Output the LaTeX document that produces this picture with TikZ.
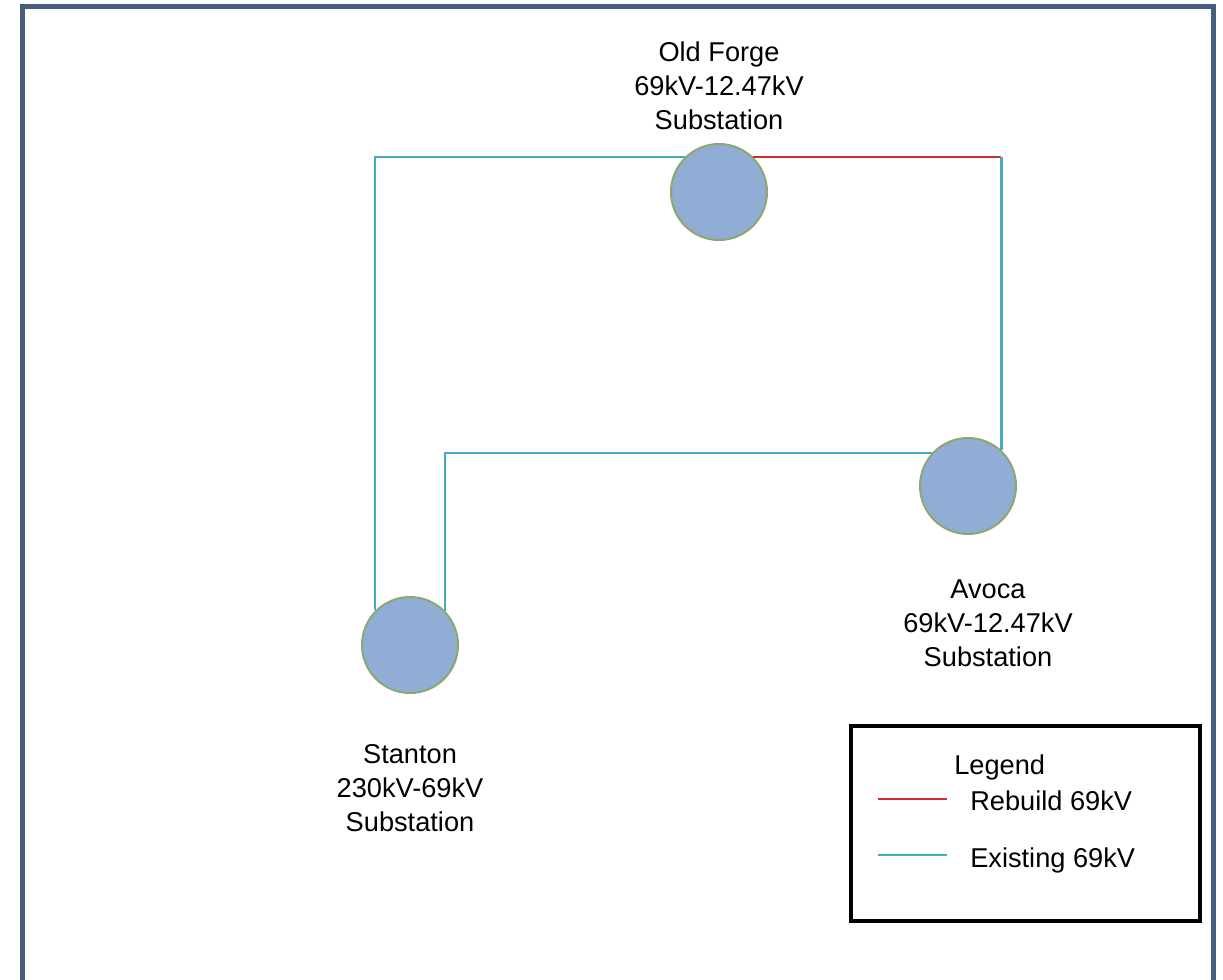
\documentclass[tikz,border=0pt]{standalone}
\usepackage{fontspec}
\setmainfont{Liberation Sans}
\usepackage{tikz}

\tikzset{
  substation/.style={circle,draw={rgb, 255:red, 140; green, 168; blue, 112},line width=1.5pt,
    fill={rgb, 255:red, 145; green, 173; blue, 214},inner sep=0pt,minimum size=72pt},
  existing/.style={draw={rgb, 255:red, 70; green, 170; blue, 196},line width=1.6pt},
  rebuild/.style={draw={rgb, 255:red, 205; green, 45; blue, 45},line width=1.6pt},
  label/.style={inner sep=0pt,align=center,font=\fontsize{20.4}{25.5}\selectfont},
}

\begin{document}
\begin{tikzpicture}[x=0.75pt,y=0.75pt,yscale=-1,xscale=1]
\useasboundingbox (0,0) rectangle (1223,979);

%Frame
\draw [color={rgb, 255:red, 72; green, 94; blue, 125 }  ,line width=3.75pt ]   (22.5,6.5) rectangle (1213,983) ;

%Shape: Circle
\node [substation] (forge) at (719,192) {};
%Shape: Circle
\node [substation] (avoca) at (968,486) {};
%Shape: Circle
\node [substation] (stanton) at (410,645) {};

%Straight Lines
\draw [existing]   (forge.134) -| (stanton.135) ;
%Straight Lines
\coordinate (bend) at (avoca.47 |- forge.46);
\draw [rebuild]   (forge.46) -- (bend) ;
\draw [existing]   (bend) -- (avoca.47) ;
%Straight Lines
\draw [existing]   (avoca.137) -| (stanton.44) ;

% Text Node
\node [label,anchor=north] (forgetext) at (719,41.5) {Old Forge\\69kV-12.47kV\\Substation};
% Text Node
\node [label,anchor=north] (avocatext) at (988,579.5) {Avoca\\69kV-12.47kV\\Substation};
% Text Node
\node [label,anchor=north] (stantontext) at (410,744.5) {Stanton\\230kV-69kV\\Substation};

%Legend
\draw [line width=3pt]   (851,725.5) rectangle (1200,921) ;
\node [label,anchor=base west] (legendtitle) at (954,774) {Legend};
\draw [rebuild]   (878,799) -- (947,799) ;
\node [label,anchor=base west] (rebuildtext) at (970,810) {Rebuild 69kV};
\draw [existing]   (878,855) -- (947,855) ;
\node [label,anchor=base west] (existingtext) at (970,867) {Existing 69kV};

\end{tikzpicture}
\end{document}
